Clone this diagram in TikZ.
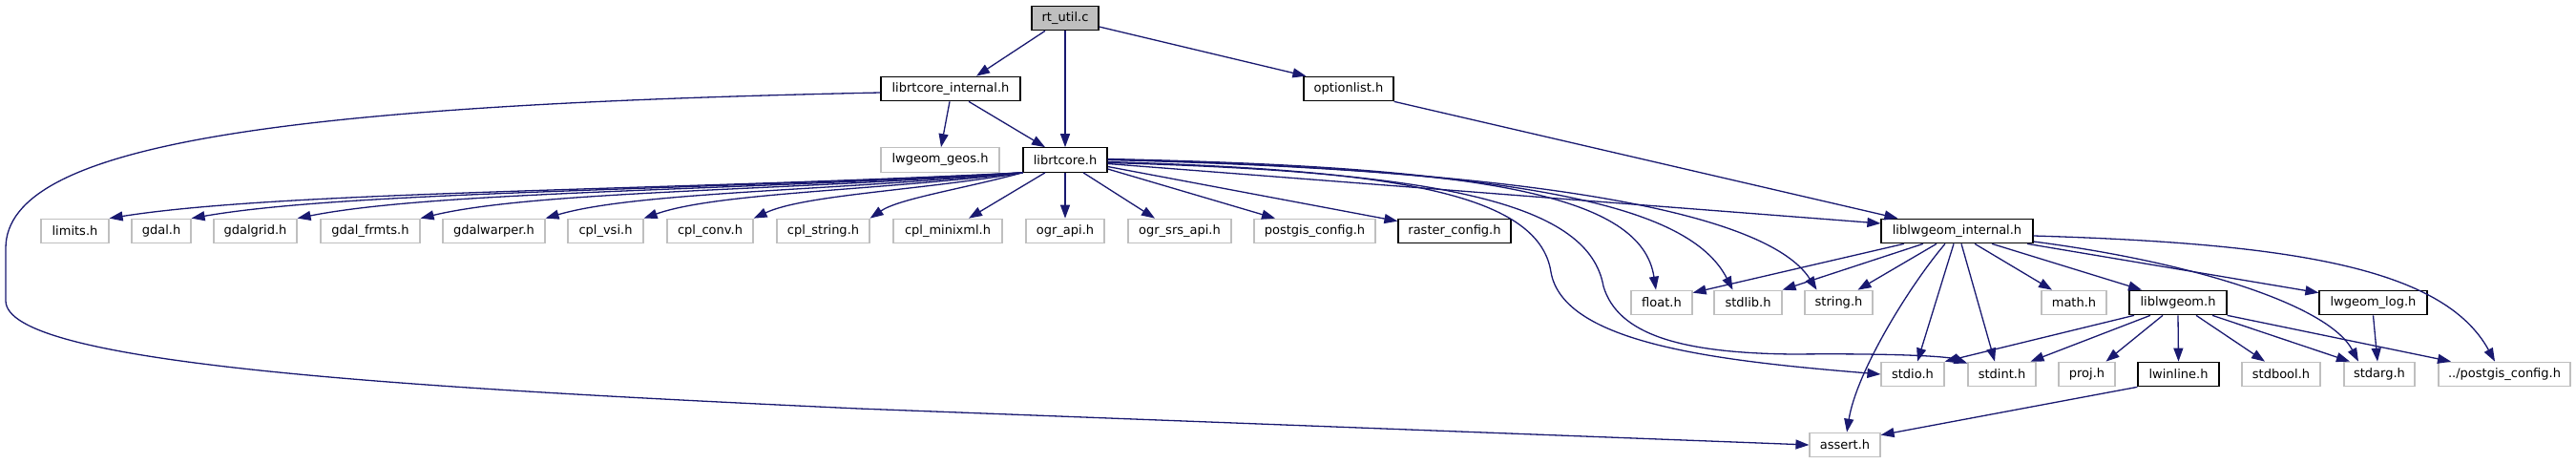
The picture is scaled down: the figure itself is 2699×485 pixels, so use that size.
\documentclass[tikz,border=0pt]{standalone}
\usepackage{fontspec}
\setmainfont{DejaVu Sans}
\usetikzlibrary{arrows.meta}
\definecolor{edgec}{HTML}{191970}
\definecolor{greyb}{HTML}{BFBFBF}
\begin{document}
\begin{tikzpicture}[x=1pt,y=-1pt,
  box/.style={rectangle, inner sep=0pt, minimum height=25.5pt, line width=1.2pt, fill=white, font=\fontsize{13}{15.6}\selectfont},
  nb/.style={box, draw=black},
  ng/.style={box, draw=greyb},
  dep/.style={draw=edgec, line width=1.3pt, -{Triangle[length=14pt,width=10pt]}}]
\useasboundingbox (0,0) rectangle (2699,485);
% row 0
\node[nb, fill=greyb, minimum width=70pt] (rtutil) at (1116,19) {rt\_util.c};
% row 1
\node[nb, minimum width=146pt] (lrci) at (996,93) {librtcore\_internal.h};
\node[nb, minimum width=94pt] (optl) at (1413,93) {optionlist.h};
% row 2
\node[ng, minimum width=124pt] (geos) at (985,167.5) {lwgeom\_geos.h};
\node[nb, minimum width=88pt] (lrc) at (1116,167.5) {librtcore.h};
% row 3
\node[ng, minimum width=71pt] (limits) at (78.5,242) {limits.h};
\node[ng, minimum width=62pt] (gdal) at (169,242) {gdal.h};
\node[ng, minimum width=87pt] (gdalgrid) at (267.5,242) {gdalgrid.h};
\node[ng, minimum width=104pt] (gdalfrmts) at (388,242) {gdal\_frmts.h};
\node[ng, minimum width=107pt] (gdalwarper) at (517.5,242) {gdalwarper.h};
\node[ng, minimum width=79pt] (cplvsi) at (634.5,242) {cpl\_vsi.h};
\node[ng, minimum width=90pt] (cplconv) at (744,242) {cpl\_conv.h};
\node[ng, minimum width=97pt] (cplstring) at (862.5,242) {cpl\_string.h};
\node[ng, minimum width=114pt] (cplminixml) at (993,242) {cpl\_minixml.h};
\node[ng, minimum width=82pt] (ograpi) at (1116,242) {ogr\_api.h};
\node[ng, minimum width=108pt] (ogrsrs) at (1236,242) {ogr\_srs\_api.h};
\node[ng, minimum width=127pt] (pgconf) at (1377.5,242) {postgis\_config.h};
\node[nb, minimum width=118pt] (rastconf) at (1524,242) {raster\_config.h};
\node[nb, minimum width=159pt] (lwi) at (2050.5,242) {liblwgeom\_internal.h};
% row 4
\node[ng, minimum width=64pt] (float) at (1741,317) {float.h};
\node[ng, minimum width=71pt] (stdlib) at (1831.5,317) {stdlib.h};
\node[ng, minimum width=71pt] (string) at (1926.5,317) {string.h};
\node[ng, minimum width=68pt] (math) at (2173,317) {math.h};
\node[nb, minimum width=102pt] (lwg) at (2282,317) {liblwgeom.h};
\node[nb, minimum width=113pt] (lwlog) at (2486.5,317) {lwgeom\_log.h};
% row 5
\node[ng, minimum width=66pt] (stdio) at (2004,392) {stdio.h};
\node[ng, minimum width=71pt] (stdint) at (2097.5,392) {stdint.h};
\node[ng, minimum width=59pt] (proj) at (2186.5,392) {proj.h};
\node[nb, minimum width=85pt] (lwinline) at (2282.5,392) {lwinline.h};
\node[ng, minimum width=82pt] (stdbool) at (2390,392) {stdbool.h};
\node[ng, minimum width=74pt] (stdarg) at (2493,392) {stdarg.h};
\node[ng, minimum width=138pt] (pgconf2) at (2624,392) {../postgis\_config.h};
% row 6
\node[ng, minimum width=74pt] (assert) at (1933,466) {assert.h};

% rt_util.c
\draw[dep] ([xshift=-21pt]rtutil.south) -- ([xshift=27pt]lrci.north);
\draw[dep] (rtutil.south) -- (lrc.north);
\draw[dep] ([yshift=-9pt]rtutil.east) -- ([xshift=3pt]optl.north west);
% librtcore_internal.h
\draw[dep] ([xshift=-1pt]lrci.south) -- ([xshift=1pt]geos.north);
\draw[dep] ([xshift=19pt]lrci.south) -- ([xshift=-21pt]lrc.north);
\draw[dep] ([yshift=-4pt]lrci.west) .. controls (300,110) and (6,150) .. (6,260)
   -- (6,315) .. controls (6,380) and (400,405) .. (900,428) -- (assert.west);
% optionlist.h
\draw[dep] (optl.south east) -- ([xshift=18pt]lwi.north west);
% librtcore.h -> left group
\draw[dep] (lrc.south west) .. controls (689,200) and (296,200) .. (limits.north east);
\draw[dep] (lrc.south west) .. controls (723,200) and (366,200) .. (gdal.north east);
\draw[dep] (lrc.south west) .. controls (768,200) and (456,200) .. (gdalgrid.north east);
\draw[dep] (lrc.south west) .. controls (819,200) and (560,200) .. (gdalfrmts.north east);
\draw[dep] (lrc.south west) .. controls (872,200) and (666,201) .. (gdalwarper.north east);
\draw[dep] (lrc.south west) .. controls (913,200) and (750,202) .. (cplvsi.north east);
\draw[dep] (lrc.south west) .. controls (959,200) and (843,204) .. (cplconv.north east);
\draw[dep] (lrc.south west) .. controls (1008,198) and (942,208) .. (cplstring.north east);
\draw[dep] ([xshift=-21pt]lrc.south) -- ([xshift=22pt]cplminixml.north);
\draw[dep] (lrc.south) -- (ograpi.north);
\draw[dep] ([xshift=19pt]lrc.south) -- ([xshift=-26pt]ogrsrs.north);
\draw[dep] ([yshift=-9.5pt]lrc.east) -- ([xshift=-41.5pt]pgconf.north);
\draw[dep] ([yshift=-7pt]lrc.east) -- ([yshift=-3pt]rastconf.north west);
% librtcore.h -> right group
\draw[dep] ([yshift=-4pt]lrc.east) -- ([yshift=8pt]lwi.west);
\draw[dep] ([yshift=1pt]lrc.east) .. controls (1560,175) and (1720,205) .. ([xshift=-6pt]float.north);
\draw[dep] ([yshift=0.5pt]lrc.east) .. controls (1600,178) and (1770,215) .. ([xshift=-16pt]float.north -| stdlib.north);
\draw[dep] (lrc.east) .. controls (1680,180) and (1860,235) .. ([xshift=-23pt]string.north);
\draw[dep] ([yshift=-2pt]lrc.east) .. controls (1450,178) and (1612,200) .. (1625,285)
   .. controls (1638,360) and (1800,378) .. (stdio.west);
\draw[dep] ([yshift=-3pt]lrc.east) .. controls (1520,180) and (1665,215) .. (1680,300)
   .. controls (1695,350) and (1760,370) .. (1880,371)
   .. controls (1980,370) and (2040,373) .. ([yshift=-2pt]stdint.north west);
% liblwgeom_internal.h
\draw[dep] ([xshift=-55.5pt]lwi.south) -- ([yshift=-3pt]float.north east);
\draw[dep] ([xshift=-35.5pt]lwi.south) -- (stdlib.north east);
\draw[dep] ([xshift=-21.5pt]lwi.south) -- ([xshift=20pt]string.north);
\draw[dep] ([xshift=-12.5pt]lwi.south) .. controls (2000,300) and (1945,390) .. ([xshift=2pt]assert.north);
\draw[dep] ([xshift=-3.5pt]lwi.south) -- ([xshift=5pt]stdio.north);
\draw[dep] ([xshift=4.5pt]lwi.south) -- ([xshift=-7.5pt]stdint.north);
\draw[dep] ([xshift=18.5pt]lwi.south) -- ([xshift=-23pt]math.north);
\draw[dep] ([xshift=36.5pt]lwi.south) -- ([xshift=-38pt]lwg.north);
\draw[dep] ([xshift=73.5pt]lwi.south) -- ([yshift=-3pt]lwlog.north west);
\draw[dep] ([yshift=-11pt]lwi.east) .. controls (2300,275) and (2440,320) .. ([xshift=-22pt]stdarg.north);
\draw[dep] ([yshift=-5pt]lwi.east) .. controls (2400,255) and (2560,280) .. ([xshift=-10pt]pgconf2.north);
% liblwgeom.h
\draw[dep] ([xshift=-46pt]lwg.south) -- (stdio.north east);
\draw[dep] ([xshift=-29pt]lwg.south) -- ([xshift=30pt]stdint.north);
\draw[dep] ([xshift=-16pt]lwg.south) -- ([xshift=20pt]proj.north);
\draw[dep] (lwg.south) -- (lwinline.north);
\draw[dep] ([xshift=19pt]lwg.south) -- ([xshift=-17pt]stdbool.north);
\draw[dep] ([xshift=36pt]lwg.south) -- ([xshift=-31pt]stdarg.north);
\draw[dep] (lwg.south east) -- ([xshift=-56pt]pgconf2.north);
% others
\draw[dep] (lwlog.south) -- ([xshift=-2pt]stdarg.north);
\draw[dep] (lwinline.south west) -- ([yshift=-3pt]assert.north east);
\end{tikzpicture}
\end{document}
